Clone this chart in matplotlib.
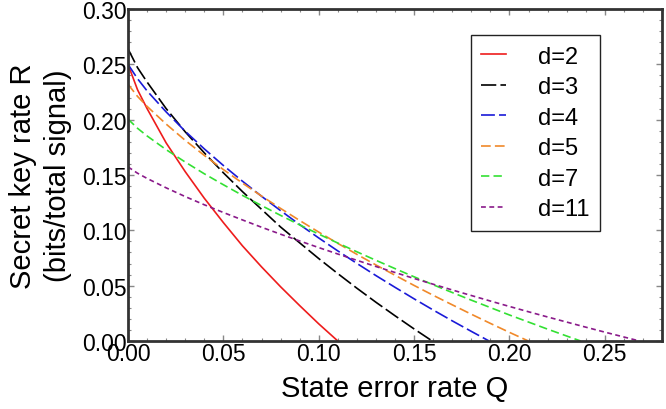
import matplotlib
matplotlib.use("Agg")
import matplotlib.pyplot as plt
from matplotlib.ticker import MultipleLocator, FormatStrFormatter

plt.rcParams['font.family'] = ['Liberation Sans', 'DejaVu Sans']
plt.rcParams['lines.scale_dashes'] = False

# Values
q_d2 = [0.0, 0.005, 0.01, 0.02, 0.03, 0.04, 0.05, 0.06, 0.07, 0.08, 0.09, 0.10, 0.110]
r_d2 = [0.250, 0.227, 0.210, 0.179, 0.153, 0.129, 0.107, 0.086, 0.067, 0.049, 0.032, 0.0155, 0.0]

q_d3 = [0.0, 0.005, 0.01, 0.02, 0.03, 0.04, 0.05, 0.06, 0.07, 0.08, 0.09, 0.10, 0.11, 0.12, 0.13, 0.14, 0.15, 0.1595]
r_d3 = [0.264, 0.247, 0.234, 0.210, 0.189, 0.170, 0.152, 0.135, 0.119, 0.103, 0.0887, 0.0745, 0.0609, 0.0477, 0.0350, 0.0228, 0.0109, 0.0]

q_d4 = [0.0, 0.005, 0.01, 0.02, 0.03, 0.04, 0.05, 0.06, 0.07, 0.08, 0.09, 0.10, 0.11, 0.12, 0.13, 0.14, 0.15, 0.16, 0.17, 0.18, 0.1893]
r_d4 = [0.250, 0.237, 0.226, 0.207, 0.1895, 0.1736, 0.1586, 0.1444, 0.1308, 0.1178, 0.1052, 0.0931, 0.0814, 0.0701, 0.0591, 0.0485, 0.0381, 0.0280, 0.0182, 0.0087, 0.0]

q_d5 = [0.0, 0.005, 0.01, 0.02, 0.03, 0.04, 0.05, 0.06, 0.07, 0.08, 0.09, 0.10, 0.11, 0.12, 0.13, 0.14, 0.15, 0.16, 0.17, 0.18, 0.19, 0.20, 0.2099]
r_d5 = [0.232, 0.221, 0.212, 0.196, 0.1813, 0.1677, 0.1549, 0.1427, 0.1310, 0.1198, 0.1089, 0.0984, 0.0882, 0.0783, 0.0687, 0.0594, 0.0502, 0.0413, 0.0327, 0.0242, 0.0159, 0.0078, 0.0]

q_d7 = [0.0, 0.005, 0.01, 0.02, 0.03, 0.04, 0.05, 0.06, 0.07, 0.08, 0.09, 0.10, 0.11, 0.12, 0.13, 0.14, 0.15, 0.16, 0.17, 0.18, 0.19, 0.20, 0.21, 0.22, 0.23, 0.2373]
r_d7 = [0.2005, 0.1922, 0.1853, 0.1729, 0.1617, 0.1511, 0.1412, 0.1316, 0.1224, 0.1135, 0.1049, 0.0966, 0.0885, 0.0806, 0.0729, 0.0654, 0.0580, 0.0508, 0.0438, 0.0369, 0.0302, 0.0235, 0.0171, 0.0107, 0.0045, 0.0]

q_d11 = [0.0, 0.005, 0.01, 0.02, 0.03, 0.04, 0.05, 0.06, 0.07, 0.08, 0.09, 0.10, 0.11, 0.12, 0.13, 0.14, 0.15, 0.16, 0.17, 0.18, 0.19, 0.20, 0.21, 0.22, 0.23, 0.24, 0.25, 0.26, 0.2682]
r_d11 = [0.1573, 0.1516, 0.1469, 0.1384, 0.1305, 0.1231, 0.1161, 0.1094, 0.1028, 0.0965, 0.0904, 0.0844, 0.0786, 0.0729, 0.0673, 0.0619, 0.0565, 0.0513, 0.0461, 0.0411, 0.0361, 0.0312, 0.0264, 0.0217, 0.0171, 0.0125, 0.0080, 0.0036, 0.0]

labels = ["d=2", "d=3", "d=4", "d=5", "d=7", "d=11"]
x_label = "State error rate Q"
y_label = "Secret key rate R\n(bits/total signal)"

series = [(q_d2, r_d2), (q_d3, r_d3), (q_d4, r_d4), (q_d5, r_d5), (q_d7, r_d7), (q_d11, r_d11)]
colors = ['#ee1c1c', '#000000', '#1a1ad8', '#f0892a', '#33e033', '#8a1a8a']
dashes = [None, (11, 3), (10, 3), (7, 3), (6, 3), (3.5, 2.5)]

fig = plt.figure(figsize=(6.66, 4.10), dpi=100)
ax = fig.add_axes([0.1922, 0.1659, 0.994 - 0.1922, 0.9756 - 0.1659])

for (q, r), lab, c, d in zip(series, labels, colors, dashes):
    line, = ax.plot(q, r, color=c, lw=1.2, label=lab)
    if d is not None:
        line.set_dashes(d)

ax.set_xlim(0, 0.28)
ax.set_ylim(0, 0.30)
ax.xaxis.set_major_locator(MultipleLocator(0.05))
ax.xaxis.set_minor_locator(MultipleLocator(0.01))
ax.yaxis.set_major_locator(MultipleLocator(0.05))
ax.yaxis.set_minor_locator(MultipleLocator(0.01))
ax.xaxis.set_major_formatter(FormatStrFormatter('%.2f'))
ax.yaxis.set_major_formatter(FormatStrFormatter('%.2f'))
ax.tick_params(which='both', direction='in', top=True, right=True, color='#888888',
               labelsize=16.5, pad=1)
ax.tick_params(which='major', length=4, width=1)
ax.tick_params(which='minor', length=2.5, width=0.8)
for s in ax.spines.values():
    s.set_linewidth(2)
    s.set_color('#333333')

ax.set_xlabel(x_label, fontsize=21, labelpad=6)
ax.set_ylabel(y_label, fontsize=21, labelpad=7, linespacing=1.32)

leg = ax.legend(loc='upper right', bbox_to_anchor=(0.884, 0.922), borderaxespad=0,
                fontsize=17, handlelength=1.05, handletextpad=1.35, labelspacing=0.36,
                fancybox=False, framealpha=1, edgecolor='#222222',
                borderpad=0.45)
leg.get_frame().set_linewidth(1)

fig.savefig("out.png", dpi=100)
